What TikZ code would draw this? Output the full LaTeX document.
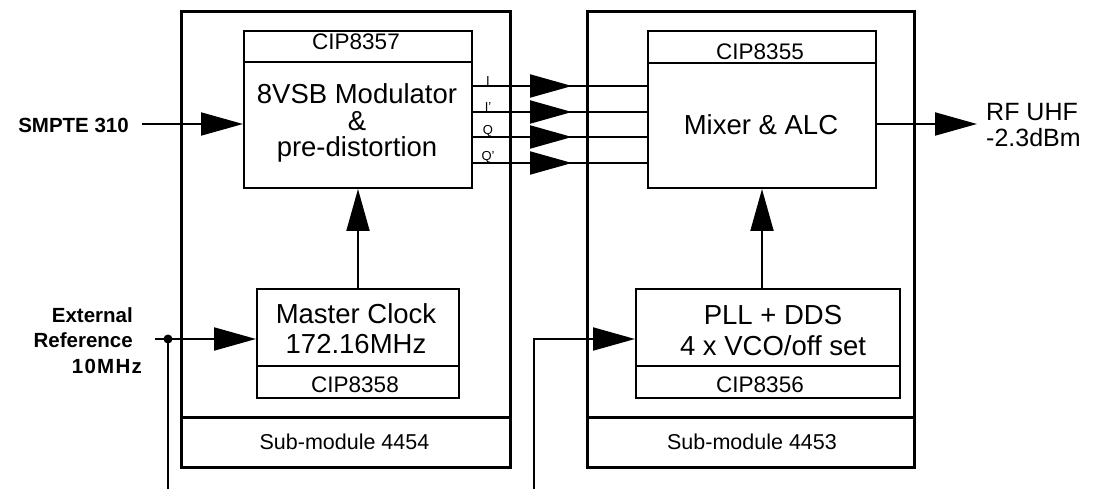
\documentclass[tikz,border=0pt]{standalone}
\usepackage{fontspec}
\setmainfont{Liberation Sans}
\usetikzlibrary{arrows.meta}
\begin{document}
\begin{tikzpicture}[x=1pt,y=-1pt,
  outerbox/.style={draw, line width=2.6pt, inner sep=0pt, anchor=north west},
  innerbox/.style={draw, line width=2pt, inner sep=0pt, anchor=north west},
  wire/.style={line width=2pt},
  tri/.style={wire, -{Triangle[length=42pt,width=23pt]}},
  big/.style={font=\fontsize{27.5}{30}\selectfont, align=center, inner sep=0pt},
  cip/.style={font=\fontsize{22.5}{24}\selectfont, inner sep=0pt},
  subtxt/.style={font=\fontsize{21.5}{24}\selectfont, inner sep=0pt},
  side/.style={font=\bfseries\fontsize{20.5}{25}\selectfont, inner sep=0pt},
  tinylab/.style={font=\fontsize{13}{13}\selectfont, inner sep=0.3pt, anchor=south}
]
\useasboundingbox (0,0) rectangle (1096,489);

% outer sub-module boxes
\node[outerbox, minimum width=329pt, minimum height=456pt] (outL) at (180,10) {};
\node[outerbox, minimum width=329pt, minimum height=50pt] (subL) at (180,416) {};
\node[subtxt] (subLt) at (344.5,442) {Sub-module 4454};
\node[outerbox, minimum width=327pt, minimum height=456pt] (outR) at (586,10) {};
\node[outerbox, minimum width=327pt, minimum height=50pt] (subR) at (586,416) {};
\node[subtxt] (subRt) at (752,442) {Sub-module 4453};

% modulator
\node[innerbox, minimum width=228pt, minimum height=31pt] (cipA) at (243,30) {};
\node[cip] (cipAt) at (356,42) {CIP8357};
\node[innerbox, minimum width=228pt, minimum height=126pt] (mod) at (243,61) {};
\node[big, font=\fontsize{27.5}{26.5}\selectfont] (modt) at (357,123) {8VSB Modulator\\\&\\pre-distortion};

% mixer
\node[innerbox, minimum width=228pt, minimum height=32pt] (cipB) at (647,30) {};
\node[cip] (cipBt) at (760,52) {CIP8355};
\node[innerbox, minimum width=228pt, minimum height=125pt] (mix) at (647,62) {};
\node[big] (mixt) at (761,125) {Mixer \& ALC};

% master clock
\node[innerbox, minimum width=202pt, minimum height=77pt] (clk) at (256,288) {};
\node[big] (clkt) at (356,329) {Master Clock\\172.16MHz};
\node[innerbox, minimum width=202pt, minimum height=32pt] (cipC) at (256,365) {};
\node[cip] (cipCt) at (355,385) {CIP8358};

% PLL
\node[innerbox, minimum width=264pt, minimum height=77pt] (pll) at (635,288) {};
\node[big, font=\fontsize{27.5}{31}\selectfont] (pllt) at (773,331) {PLL + DDS\\4 x VCO/off set};
\node[innerbox, minimum width=264pt, minimum height=32pt] (cipD) at (635,365) {};
\node[cip] (cipDt) at (760,385) {CIP8356};

% side labels
\node[side, anchor=east] (smpte) at (129,125.5) {SMPTE 310};
\node[side, align=right, anchor=east] (ext) at (133,328) {External\\Reference};
\node[side, anchor=east] (tenm) at (142,366) {\addfontfeature{LetterSpace=6}10MHz};
\node[font=\fontsize{25}{25.5}\selectfont, align=left, anchor=west, inner sep=0pt] (rf) at (986,125) {RF UHF\\-2.3dBm};

% SMPTE input
\coordinate (sS) at (142,124);
\draw[tri] (sS) -- (mod.west |- sS);

% I/Q lines
\foreach \y/\n/\lab in {86/a/I, 112/b/I', 137/c/Q, 163/d/Q'}{
  \coordinate (s\n) at (471,\y);
  \coordinate (t\n) at (572,\y);
  \draw[wire] (s\n) -- (s\n -| mix.west);
  \draw[tri] (s\n) -- (t\n);
  \node[tinylab] (l\n) at (488,\y+0.5) {\lab};
}

% vertical arrows
\draw[tri] (clk.north) -- (mod.south);
\draw[tri] (mix.south |- pll.north) -- (mix.south);

% external reference
\coordinate (cS) at (155,339);
\coordinate (jn) at (168,339);
\coordinate (jb) at (168,489);
\draw[tri] (cS) -- (cS -| clk.west);
\draw[wire] (jn) -- (jb);
\fill (jn) circle (4.5pt);

% PLL input
\coordinate (pS) at (534,489);
\coordinate (pC) at (534,339);
\draw[tri] (pS) -- (pC) -- (pC -| pll.west);

% RF output
\coordinate (rfT) at (977,124);
\draw[tri] (rfT -| mix.east) -- (rfT);
\end{tikzpicture}
\end{document}
